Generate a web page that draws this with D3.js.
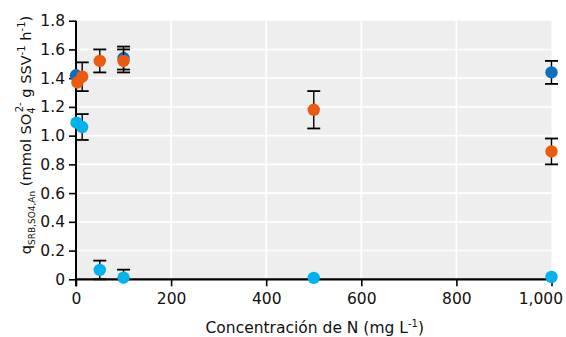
<!DOCTYPE html>
<html>
<head>
<meta charset="utf-8">
<script src="https://cdn.jsdelivr.net/npm/d3@7"></script>
<style>
  html, body { margin: 0; padding: 0; background: #fff; }
  svg { display: block; font-family: "DejaVu Sans", Verdana, sans-serif; }
</style>
</head>
<body>
<svg id="chart" width="566" height="337"></svg>
<script>
// ---- data ----
const xTicks = [0, 200, 400, 600, 800, 1000];
const yTicks = [0, 0.2, 0.4, 0.6, 0.8, 1.0, 1.2, 1.4, 1.6, 1.8];

const darkX   = [0, 100, 1000];
const darkY   = [1.42, 1.54, 1.44];
const darkErr = [0, 0.08, 0.08];

const orangeX   = [3, 13, 50, 100, 500, 1000];
const orangeY   = [1.37, 1.41, 1.52, 1.52, 1.18, 0.89];
const orangeErr = [0, 0.10, 0.08, 0.08, 0.13, 0.09];

const lightX   = [1, 13, 50, 100, 500, 1000];
const lightY   = [1.09, 1.06, 0.065, 0.011, 0.01, 0.016];
const lightErr = [0, 0.09, 0.065, 0.056, 0, 0];

const seriesColors = ["#0a6fbf", "#ec5a0f", "#00b2ee"];

// ---- layout ----
const svg = d3.select("#chart");
const pL = 76, pR = 551.5, pT = 20.7, pB = 279.3;

const x = d3.scaleLinear().domain([0, 1000]).range([pL, pR]);
const y = d3.scaleLinear().domain([0, 1.8]).range([pB, pT]);

// background
svg.append("rect").attr("x", pL).attr("y", pT)
  .attr("width", pR - pL).attr("height", pB - pT)
  .attr("fill", "#eeeeee");

// grid
svg.append("g").selectAll("line").data(yTicks.filter(d => d > 0 && d < 1.8)).join("line")
  .attr("x1", pL).attr("x2", pR)
  .attr("y1", d => y(d)).attr("y2", d => y(d))
  .attr("stroke", "#fff").attr("stroke-width", 1.6);
svg.append("g").selectAll("line").data(xTicks.filter(d => d > 0 && d < 1000)).join("line")
  .attr("x1", d => x(d)).attr("x2", d => x(d))
  .attr("y1", pT).attr("y2", pB)
  .attr("stroke", "#fff").attr("stroke-width", 1.6);

// axes
const yAxis = d3.axisLeft(y).tickValues(yTicks).tickSize(7).tickPadding(4)
  .tickFormat(d => d === 0 ? "0" : d3.format(".1f")(d));
const gy = svg.append("g").attr("transform", `translate(${pL},0)`).call(yAxis);
gy.select(".domain").remove();
gy.append("line").attr("x1", 0).attr("x2", 0).attr("y1", pT).attr("y2", pB + 7)
  .attr("stroke", "#000").attr("stroke-width", 2);
gy.selectAll(".tick line").attr("stroke", "#000").attr("stroke-width", 1.6);
gy.selectAll(".tick text").attr("font-size", 15.5).attr("fill", "#111")
  .attr("font-family", "DejaVu Sans, sans-serif");

const xAxis = d3.axisBottom(x).tickValues(xTicks).tickSize(7).tickPadding(7)
  .tickFormat(d3.format(","));
const gx = svg.append("g").attr("transform", `translate(0,${pB})`).call(xAxis);
gx.select(".domain").remove();
gx.append("line").attr("x1", pL).attr("x2", pR).attr("y1", 0).attr("y2", 0)
  .attr("stroke", "#000").attr("stroke-width", 2.2);
gx.selectAll(".tick line").attr("stroke", "#000").attr("stroke-width", 1.6);
gx.selectAll(".tick text").attr("font-size", 15.5).attr("fill", "#111")
  .attr("font-family", "DejaVu Sans, sans-serif");
// last label sits inside the frame, right edge near the page edge
gx.selectAll(".tick text").filter(d => d === 1000)
  .attr("text-anchor", "end").attr("dx", 11);

// series: error bars + points
function drawSeries(xs, ys, errs, color) {
  const data = xs.map((d, i) => ({ x: d, y: ys[i], e: errs[i] }));
  const g = svg.append("g");
  const eb = data.filter(d => d.e > 0);
  const capW = 6.5;
  g.selectAll(".v").data(eb).join("line")
    .attr("x1", d => x(d.x)).attr("x2", d => x(d.x))
    .attr("y1", d => y(d.y + d.e)).attr("y2", d => y(Math.max(0, d.y - d.e)))
    .attr("stroke", "#000").attr("stroke-width", 1.4);
  g.selectAll(".t").data(eb).join("line")
    .attr("x1", d => x(d.x) - capW).attr("x2", d => x(d.x) + capW)
    .attr("y1", d => y(d.y + d.e)).attr("y2", d => y(d.y + d.e))
    .attr("stroke", "#000").attr("stroke-width", 1.8);
  g.selectAll(".b").data(eb).join("line")
    .attr("x1", d => x(d.x) - capW).attr("x2", d => x(d.x) + capW)
    .attr("y1", d => y(Math.max(0, d.y - d.e))).attr("y2", d => y(Math.max(0, d.y - d.e)))
    .attr("stroke", "#000").attr("stroke-width", 1.8);
  g.selectAll("circle").data(data).join("circle")
    .attr("cx", d => x(d.x)).attr("cy", d => y(d.y)).attr("r", 6.2)
    .attr("fill", color);
}
drawSeries(darkX, darkY, darkErr, seriesColors[0]);
drawSeries(orangeX, orangeY, orangeErr, seriesColors[1]);
drawSeries(lightX, lightY, lightErr, seriesColors[2]);

// x title
const xt = svg.append("text").attr("x", (pL + pR) / 2 + 1).attr("y", 333)
  .attr("text-anchor", "middle").attr("font-size", 15.5).attr("fill", "#111");
xt.append("tspan").text("Concentración de N (mg L");
xt.append("tspan").attr("dy", -6).attr("font-size", 10).text("-1");
xt.append("tspan").attr("dy", 6).text(")");

// y title
const yt = svg.append("text")
  .attr("transform", `translate(31,135) rotate(-90)`)
  .attr("text-anchor", "middle").attr("font-size", 14.6).attr("fill", "#111");
yt.append("tspan").text("q");
yt.append("tspan").attr("dy", 4).attr("font-size", 9).text("SRB,SO4,An");
yt.append("tspan").attr("dy", -4).text(" (mmol SO");
yt.append("tspan").attr("dy", 4).attr("font-size", 10).text("4");
yt.append("tspan").attr("dy", -12).attr("dx", -5).attr("font-size", 10).text("2-");
yt.append("tspan").attr("dy", 8).text(" g SSV");
yt.append("tspan").attr("dy", -6).attr("font-size", 10).text("-1");
yt.append("tspan").attr("dy", 6).text(" h");
yt.append("tspan").attr("dy", -6).attr("font-size", 10).text("-1");
yt.append("tspan").attr("dy", 6).text(")");
</script>
</body>
</html>
